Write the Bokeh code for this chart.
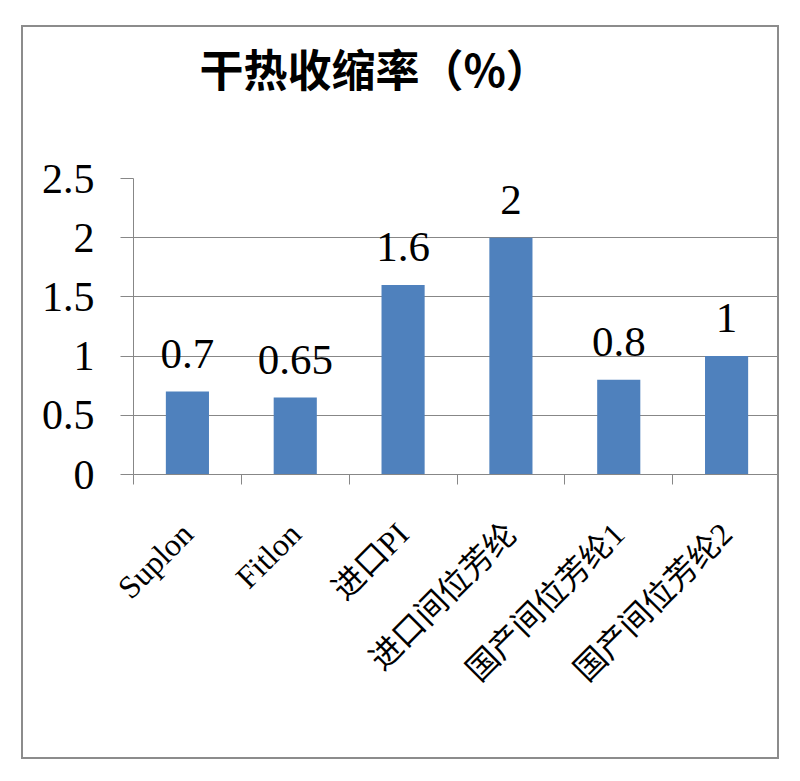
import math

from bokeh.core.properties import value
from bokeh.embed import file_html
from bokeh.models import ColumnDataSource, FixedTicker, Range1d, Title
from bokeh.plotting import figure
from bokeh.resources import INLINE

# Dry-heat shrinkage (%) per fibre
categories = ["Suplon", "Fitlon", "进口PI", "进口间位芳纶", "国产间位芳纶1", "国产间位芳纶2"]
shrinkage = [0.7, 0.65, 1.6, 2, 0.8, 1]
value_labels = ["0.7", "0.65", "1.6", "2", "0.8", "1"]
y_ticks = [0, 0.5, 1, 1.5, 2, 2.5]
y_tick_labels = ["0", "0.5", "1", "1.5", "2", "2.5"]
title_text = "干热收缩率（%）"

SERIF = "'Liberation Serif', 'Noto Sans CJK SC', serif"
GRAY = "#878787"
BAR = "#4F81BD"

x_centers = [i + 0.5 for i in range(len(categories))]
x_bounds = list(range(len(categories) + 1))
source = ColumnDataSource(dict(x=x_centers, top=shrinkage, label=value_labels))

# the border is drawn inside the element box, so the size includes it
p = figure(
    width=758, height=734,
    x_range=Range1d(0, len(categories)), y_range=Range1d(0, 2.5),
    output_backend="svg", toolbar_location=None,
    min_border_left=110, min_border_right=1,
    min_border_top=151, min_border_bottom=287,
    background_fill_color="white", border_fill_color="white",
)
p.styles = {"margin-left": "21px", "margin-top": "25px",
            "border": "2px solid #8c8c8c"}
p.outline_line_color = None

# chart title (outermost panel above the plot)
p.title.text = title_text
p.title.text_font = "Noto Sans CJK SC"
p.title.text_font_style = "bold"
p.title.text_font_size = "44px"
p.title.text_color = "black"
p.title.align = "left"
p.title.offset = 66
p.title.standoff = 0

# empty panel between the title and the plot area
p.add_layout(Title(text=" ", text_font_size="20px", standoff=55), "above")

# bars and value labels
p.vbar(x="x", top="top", width=0.4, source=source,
       fill_color=BAR, line_color=None)
p.text(x="x", y="top", text="label", source=source,
       text_align="center", text_baseline="alphabetic", y_offset=-38,
       text_font=value("Liberation Serif"), text_font_size="43px",
       text_color="black")

# y axis
p.yaxis.ticker = FixedTicker(ticks=y_ticks)
p.yaxis.major_label_overrides = dict(zip(y_ticks, y_tick_labels))
p.yaxis.major_tick_in = 0
p.yaxis.major_tick_out = 13
p.yaxis.minor_tick_line_color = None
p.yaxis.axis_line_color = GRAY
p.yaxis.major_tick_line_color = GRAY
p.yaxis.major_label_standoff = 26
p.yaxis.major_label_text_font = "Liberation Serif"
p.yaxis.major_label_text_font_size = "42px"
p.yaxis.major_label_text_color = "black"

# x axis: category names at the centres, tick marks at the boundaries
p.xaxis.ticker = FixedTicker(ticks=x_centers, minor_ticks=x_bounds)
p.xaxis.major_label_overrides = dict(zip(x_centers, categories))
p.xaxis.major_tick_in = 0
p.xaxis.major_tick_out = 0
p.xaxis.minor_tick_in = 0
p.xaxis.minor_tick_out = 10
p.xaxis.minor_tick_line_color = GRAY
p.xaxis.axis_line_color = GRAY
p.xaxis.major_label_orientation = math.pi / 4
p.xaxis.major_label_standoff = 44
p.xaxis.major_label_text_font = SERIF
p.xaxis.major_label_text_font_size = "32px"
p.xaxis.major_label_text_color = "black"

# grid
p.xgrid.visible = False
p.ygrid.ticker = FixedTicker(ticks=y_ticks)
p.ygrid.grid_line_color = GRAY
p.ygrid.grid_line_width = 1

open("out.html", "w").write(file_html(p, INLINE))
